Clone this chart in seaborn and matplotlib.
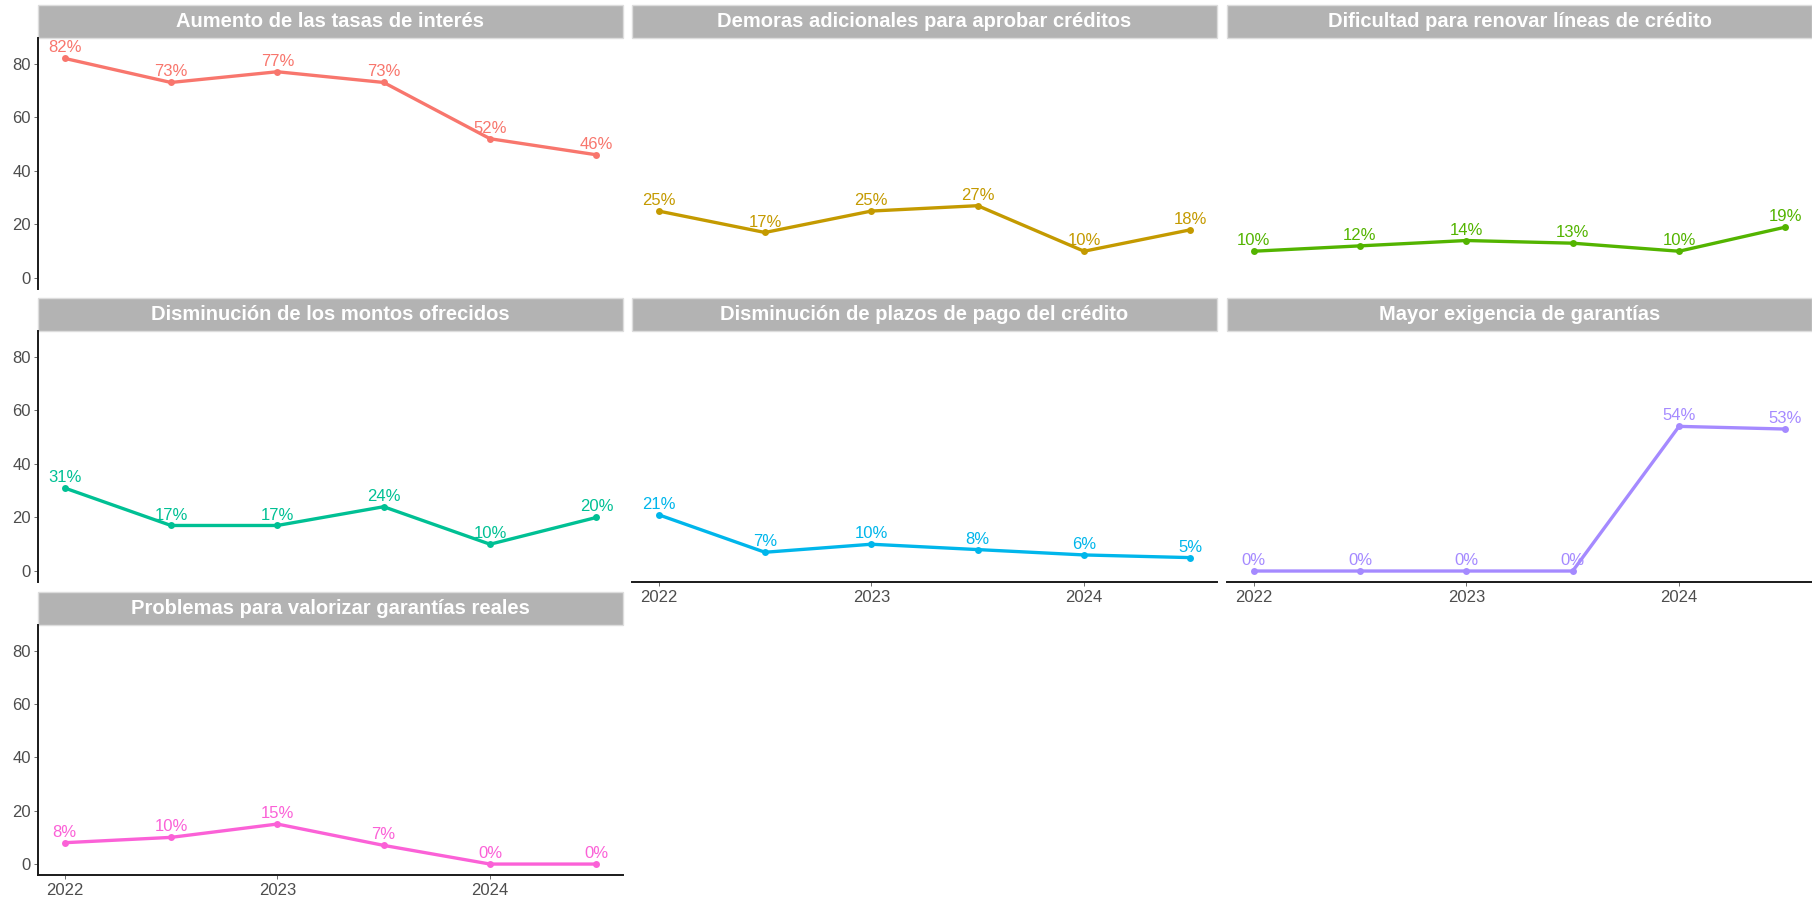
import numpy as np
import pandas as pd
import matplotlib.pyplot as plt
import seaborn as sns
from matplotlib.patches import Rectangle

sns.set_theme(style="white")
plt.rcParams["font.family"] = ["Liberation Sans", "DejaVu Sans"]

# semestres: ene y jul de cada año
periodos = [2022, 2022.5, 2023, 2023.5, 2024, 2024.5]

categorias = [
    "Aumento de las tasas de interés",
    "Demoras adicionales para aprobar créditos",
    "Dificultad para renovar líneas de crédito",
    "Disminución de los montos ofrecidos",
    "Disminución de plazos de pago del crédito",
    "Mayor exigencia de garantías",
    "Problemas para valorizar garantías reales",
]

aumento_tasas = [82, 73, 77, 73, 52, 46]
demoras = [25, 17, 25, 27, 10, 18]
dificultad_renovar = [10, 12, 14, 13, 10, 19]
menores_montos = [31, 17, 17, 24, 10, 20]
menores_plazos = [21, 7, 10, 8, 6, 5]
mayor_garantias = [0, 0, 0, 0, 54, 53]
valorizar_garantias = [8, 10, 15, 7, 0, 0]

colores = ["#F8766D", "#C49A00", "#53B400", "#00C094", "#00B6EB", "#A58AFF", "#FB61D7"]

series = [aumento_tasas, demoras, dificultad_renovar, menores_montos,
          menores_plazos, mayor_garantias, valorizar_garantias]

df = pd.DataFrame({
    "periodo": periodos * len(categorias),
    "categoria": np.repeat(categorias, len(periodos)),
    "valor": np.concatenate(series),
})

g = sns.relplot(
    data=df, x="periodo", y="valor", hue="categoria", col="categoria",
    col_wrap=3, col_order=categorias, hue_order=categorias, palette=colores,
    kind="line", marker="o", markersize=5, markeredgewidth=0, linewidth=2.4,
    legend=False, height=2.5, aspect=2.3,
)
fig = g.figure
fig.set_size_inches(18.12, 9.01)
g.set_titles("")
g.set_axis_labels("", "")

W, H = 1812, 901
col_x = [38, 632, 1227]
ancho = 585
filas = [(38, 289), (331, 582), (625, 875)]
strip_px = 33

for i, (ax, cat) in enumerate(zip(g.axes.flat, categorias)):
    fila, col = divmod(i, 3)
    top, bottom = filas[fila]
    ax.set_position([col_x[col] / W, 1 - bottom / H, ancho / W, (bottom - top) / H])
    ax.set_xlim(2021.875, 2024.625)
    ax.set_ylim(-4.1, 89.6)
    ax.set_xticks([2022, 2023, 2024])
    ax.set_yticks([0, 20, 40, 60, 80])
    ax.set_xticklabels(["2022", "2023", "2024"])
    ax.set_yticklabels(["0", "20", "40", "60", "80"])

    muestra_x = fila == 2 or (fila == 1 and col > 0)
    muestra_y = col == 0
    for lado in ["top", "right"]:
        ax.spines[lado].set_visible(False)
    ax.spines["left"].set_visible(muestra_y)
    ax.spines["bottom"].set_visible(muestra_x)
    for lado in ["left", "bottom"]:
        ax.spines[lado].set_color("#1a1a1a")
        ax.spines[lado].set_linewidth(1.4)
    ax.tick_params(axis="x", bottom=muestra_x, labelbottom=muestra_x, length=3,
                   width=0.6, color="#555555", labelsize=12, labelcolor="#4D4D4D", pad=3)
    ax.tick_params(axis="y", left=muestra_y, labelleft=muestra_y, length=3,
                   width=0.6, color="#555555", labelsize=12, labelcolor="#4D4D4D", pad=2)

    # etiquetas de porcentaje
    sub = df[df["categoria"] == cat]
    for x, y in zip(sub["periodo"], sub["valor"]):
        ax.annotate(f"{y:.0f}%", (x, y), xytext=(0, 4.3), textcoords="offset points",
                    ha="center", va="baseline", color=colores[i], fontsize=12)

    # franja del título
    alto = strip_px / (bottom - top)
    ax.add_patch(Rectangle((0, 1), 1, alto, transform=ax.transAxes, clip_on=False,
                           facecolor="#B3B3B3", edgecolor="#DDDDDD", linewidth=1))
    ax.text(0.5, 1 + alto / 2, cat, transform=ax.transAxes, ha="center", va="center",
            color="white", fontsize=14.5, fontweight="bold")

fig.savefig("out.png", dpi=100)
